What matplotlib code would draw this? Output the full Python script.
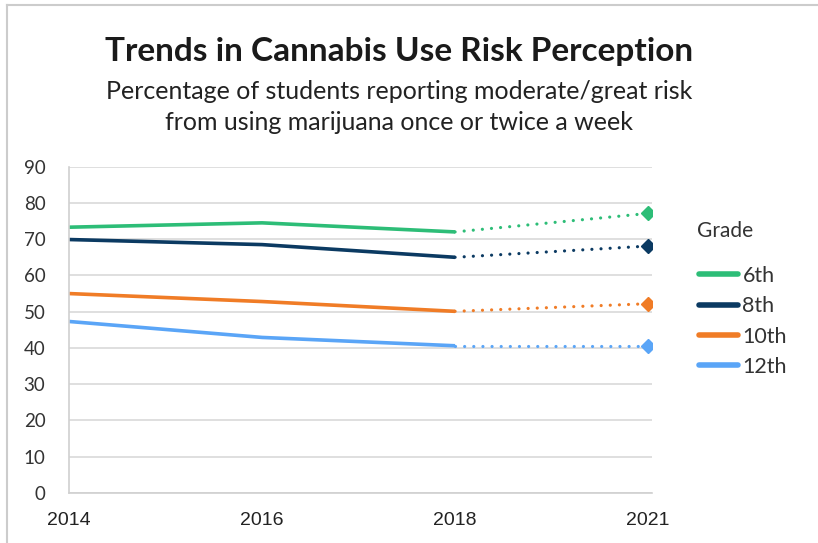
import matplotlib
matplotlib.use('Agg')
import matplotlib.pyplot as plt
from matplotlib.lines import Line2D

# data
years = ['2014', '2016', '2018', '2021']
grades = ['6th', '8th', '10th', '12th']
grade_6 = [73.3, 74.5, 72.0, 77.1]
grade_8 = [69.9, 68.5, 65.0, 68.1]
grade_10 = [55.0, 52.8, 50.1, 52.2]
grade_12 = [47.3, 42.9, 40.6, 40.6]
colors = ['#2dbd77', '#0b3a62', '#f07c26', '#5aa5f7']

series = [grade_6, grade_8, grade_10, grade_12]
x = list(range(len(years)))

fig = plt.figure(figsize=(8.18, 5.43), dpi=100)
ax = fig.add_axes([0.0844, 0.0921, 0.7126, 0.601])

for vals, col, name in zip(series, colors, grades):
    # solid part up to 2018
    ax.plot(x[:3], vals[:3], color=col, linewidth=2.6, solid_capstyle='butt', label=name)
    # dotted part 2018 -> 2021
    ax.plot(x[2:], vals[2:], color=col, linewidth=2.3, linestyle=(0, (0.01, 2.85)),
            dash_capstyle='round')
    ax.plot(x[3], vals[3], marker='D', markersize=7.5, color=col, linestyle='none')

ax.set_xlim(0, 3.02)
ax.set_ylim(0, 90)
ax.set_yticks(range(0, 91, 10))
ax.set_xticks(x)
ax.set_xticklabels(years, family=['Liberation Sans', 'DejaVu Sans'], fontsize=14, color='#222222')
for lab in ax.get_yticklabels():
    lab.set_family(['Lato', 'DejaVu Sans'])
    lab.set_fontsize(13.5)
    lab.set_color('#333333')
ax.tick_params(axis='y', length=0, pad=17)
ax.tick_params(axis='x', length=0, pad=14)
ax.grid(axis='y', color='#d9d9d9', linewidth=1.2)
ax.set_axisbelow(True)
for s in ['top', 'right']:
    ax.spines[s].set_visible(False)
ax.spines['left'].set_color('#d0d0d0')
ax.spines['bottom'].set_color('#d0d0d0')
ax.spines['left'].set_linewidth(1.2)
ax.spines['bottom'].set_linewidth(1.2)

# legend
fig.text(697 / 818, 1 - 231 / 543, 'Grade', ha='left', va='center', fontsize=15,
         family=['Lato', 'DejaVu Sans'], color='#333333')
handles = [Line2D([0], [0], color=c, linewidth=4, solid_capstyle='round') for c in colors]
leg = fig.legend(handles, grades, loc='upper left', bbox_to_anchor=(0.855, 1 - 266 / 543),
                 frameon=False, handlelength=1.8, handletextpad=0.2, borderpad=0,
                 borderaxespad=0, labelspacing=0.48,
                 prop={'family': ['Lato', 'DejaVu Sans'], 'size': 15.5})
for t in leg.get_texts():
    t.set_color('#333333')

fig.text(0.488, 1 - 52 / 543, 'Trends in Cannabis Use Risk Perception', ha='center', va='center',
         fontsize=24, fontweight='bold', family=['Lato', 'DejaVu Sans'], color='#1a1a1a')
fig.text(0.488, 1 - 107 / 543, 'Percentage of students reporting moderate/great risk\nfrom using marijuana once or twice a week',
         ha='center', va='center', fontsize=18, family=['Lato', 'DejaVu Sans'], color='#222222',
         linespacing=1.45)

# light frame at the top and left
fig.add_artist(Line2D([0.008, 1.0], [0.99, 0.99], color='#cccccc', linewidth=1.5))
fig.add_artist(Line2D([0.008, 0.008], [0.0, 0.99], color='#cccccc', linewidth=1.5))

fig.savefig('out.png', dpi=100)
